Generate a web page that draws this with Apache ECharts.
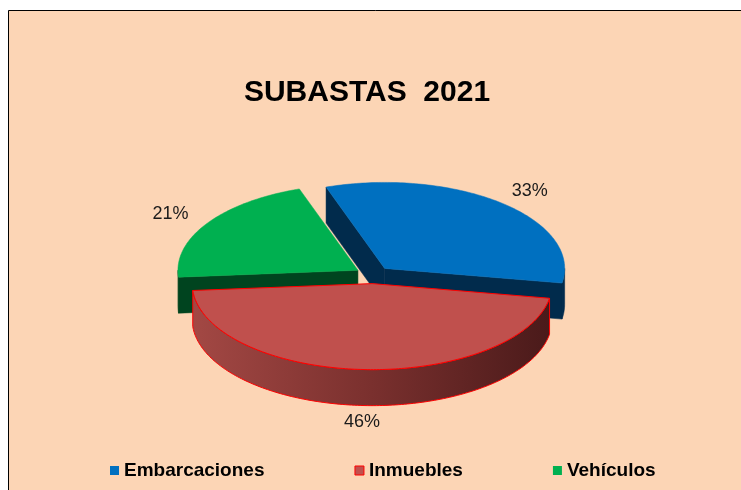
<!DOCTYPE html>
<html>
<head>
<meta charset="utf-8">
<script src="https://cdn.jsdelivr.net/npm/echarts@6/dist/echarts.min.js"></script>
<style>
  html, body { margin: 0; padding: 0; background: #fff; }
  #chart { width: 741px; height: 490px; }
</style>
</head>
<body>
<div id="chart"></div>
<script>
// datos del grafico
const categories = ['Embarcaciones', 'Inmuebles', 'Vehículos'];
const values = [33, 46, 21];

// colores (cara superior / laterales / borde)
const topColors = ['#0070C0', '#C0504D', '#00B050'];
const sideColors = ['#012B4C', '#7A3331', '#00441F'];
const edgeColors = [null, '#FF0000', null];

// geometria del "pastel 3D"
const CX = 373, CY = 275;      // centro
const R = 180;                 // radio horizontal
const K = 0.478;               // aplastamiento (ry / rx)
const DEPTH = 36;              // grosor
const EXPLODE = 18;            // separacion de las porciones
const START = -19;             // angulo inicial (grados, sentido horario desde arriba)

const total = values.reduce((a, b) => a + b, 0);
const rad = (d) => d * Math.PI / 180;

const makeRender = (idx) => (params, api) => {
  const v = api.value(0);
  let before = 0;
  for (let i = 0; i < idx; i++) before += values[i];
  const a1 = START + before / total * 360;
  const a2 = a1 + v / total * 360;
  const mid = (a1 + a2) / 2;

  const ox = CX + EXPLODE * Math.sin(rad(mid));
  const oy = CY - EXPLODE * Math.cos(rad(mid)) * K;
  const pt = (deg, dy) => [ox + R * Math.sin(rad(deg)), oy - R * Math.cos(rad(deg)) * K + (dy || 0)];
  const arc = (from, to, dy) => {
    const pts = [];
    const n = Math.max(2, Math.ceil(Math.abs(to - from)));
    for (let i = 0; i <= n; i++) pts.push(pt(from + (to - from) * i / n, dy));
    return pts;
  };

  const children = [];
  const wallZ = 1 + (1 - Math.cos(rad(mid))) * 5;
  const edge = edgeColors[idx];

  // pared exterior (solo la parte delantera)
  for (let n = -1; n <= 1; n++) {
    const lo = Math.max(a1, 90 + 360 * n);
    const hi = Math.min(a2, 270 + 360 * n);
    if (hi - lo > 0.2) {
      const pts = arc(lo, hi, 0).concat(arc(hi, lo, DEPTH));
      const fill = idx === 1
        ? new echarts.graphic.LinearGradient(0, 0, 1, 0, [
            { offset: 0, color: '#A34844' },
            { offset: 0.5, color: '#7A302E' },
            { offset: 1, color: '#4A1A1A' }
          ])
        : sideColors[idx];
      children.push({
        type: 'polygon', z2: wallZ,
        shape: { points: pts },
        style: { fill: fill, stroke: edge || sideColors[idx], lineWidth: edge ? 1 : 0.5 }
      });
    }
  }

  // caras radiales visibles
  const face = (deg) => {
    const p = pt(deg, 0);
    children.push({
      type: 'polygon', z2: wallZ,
      shape: { points: [[ox, oy], p, [p[0], p[1] + DEPTH], [ox, oy + DEPTH]] },
      style: { fill: sideColors[idx], stroke: sideColors[idx], lineWidth: 0.5 }
    });
  };
  if (Math.sin(rad(a1)) < 0) face(a1);
  if (Math.sin(rad(a2)) > 0) face(a2);

  // cara superior
  children.push({
    type: 'polygon', z2: 20,
    shape: { points: [[ox, oy]].concat(arc(a1, a2, 0)) },
    style: { fill: topColors[idx], stroke: edge || topColors[idx], lineWidth: edge ? 1 : 0.5 }
  });

  // etiqueta de porcentaje
  const lx = CX + 242 * Math.sin(rad(mid));
  const ly = CY - 232 * K * Math.cos(rad(mid)) + DEPTH * Math.max(0, -Math.cos(rad(mid)));
  children.push({
    type: 'text', z2: 30,
    x: lx, y: ly,
    style: {
      text: Math.round(v / total * 100) + '%',
      fill: '#1a1a1a',
      font: '18px "Liberation Sans", Arial, sans-serif',
      align: 'center',
      verticalAlign: 'middle'
    }
  });

  return { type: 'group', children: children };
};

const chart = echarts.init(document.getElementById('chart'));
chart.setOption({
  backgroundColor: '#ffffff',
  animation: false,
  graphic: [{
    type: 'rect', z: -10, silent: true,
    shape: { x: 8.5, y: 10.5, width: 800, height: 600 },
    style: { fill: '#FCD5B5', stroke: '#000', lineWidth: 1 }
  }],
  title: {
    text: 'SUBASTAS  2021',
    left: 362,
    textAlign: 'center',
    top: 73,
    textStyle: {
      fontFamily: '"Liberation Sans", Arial, sans-serif',
      fontSize: 30,
      fontWeight: 'bold',
      color: '#000'
    }
  },
  legend: {
    left: 105,
    top: 456,
    icon: 'rect',
    itemWidth: 9,
    itemHeight: 9,
    itemGap: 90,
    data: categories.map((c, i) => ({
      name: c,
      itemStyle: edgeColors[i] ? { borderColor: edgeColors[i], borderWidth: 1 } : {}
    })),
    textStyle: {
      fontFamily: '"Liberation Sans", Arial, sans-serif',
      fontSize: 19,
      fontWeight: 'bold',
      color: '#000'
    }
  },
  series: categories.map((c, i) => ({
    type: 'custom',
    name: c,
    coordinateSystem: 'none',
    itemStyle: { color: topColors[i] },
    renderItem: makeRender(i),
    data: [[values[i]]]
  }))
});
</script>
</body>
</html>
